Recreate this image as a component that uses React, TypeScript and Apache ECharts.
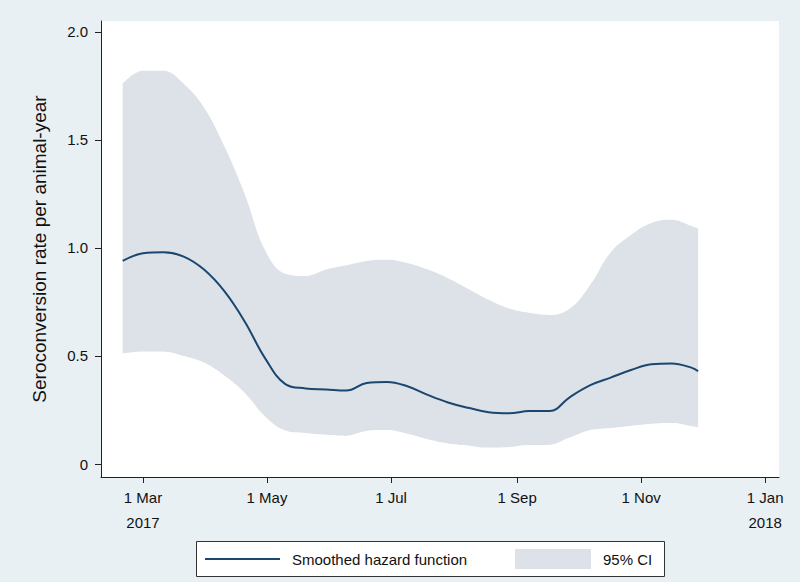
import React, { useEffect, useRef } from "react";
import * as echarts from "echarts";

const dates = [
  "2017-02-19", "2017-03-01", "2017-03-11", "2017-03-21", "2017-03-31", "2017-04-10",
  "2017-04-20", "2017-04-30", "2017-05-10", "2017-05-20", "2017-05-30", "2017-06-09",
  "2017-06-19", "2017-06-29", "2017-07-09", "2017-07-19", "2017-07-29", "2017-08-08",
  "2017-08-18", "2017-08-28", "2017-09-07", "2017-09-17", "2017-09-27", "2017-10-07",
  "2017-10-17", "2017-10-27", "2017-11-06", "2017-11-16", "2017-11-26", "2017-11-29",
];
const hazard = [
  0.94, 0.975, 0.98, 0.96, 0.90, 0.80, 0.66, 0.49, 0.37, 0.35, 0.345, 0.34,
  0.375, 0.38, 0.36, 0.32, 0.285, 0.26, 0.24, 0.235, 0.245, 0.245, 0.31, 0.365,
  0.40, 0.435, 0.462, 0.465, 0.445, 0.43,
];
const ciUpper = [
  1.76, 1.82, 1.82, 1.76, 1.65, 1.47, 1.25, 0.99, 0.88, 0.87, 0.90, 0.92,
  0.94, 0.945, 0.93, 0.90, 0.86, 0.81, 0.76, 0.72, 0.70, 0.69, 0.72, 0.83,
  0.98, 1.06, 1.115, 1.13, 1.10, 1.09,
];
const ciLower = [
  0.51, 0.52, 0.52, 0.50, 0.47, 0.41, 0.33, 0.22, 0.155, 0.143, 0.135, 0.13,
  0.152, 0.157, 0.14, 0.115, 0.095, 0.085, 0.075, 0.078, 0.087, 0.088, 0.12, 0.155,
  0.165, 0.175, 0.185, 0.19, 0.175, 0.17,
];
const xTickDates = ["2017-03-01", "2017-05-01", "2017-07-01", "2017-09-01", "2017-11-01", "2018-01-01"];
const yTicks = [0, 0.5, 1.0, 1.5, 2.0];
const monthNames = ["Jan", "Feb", "Mar", "Apr", "May", "Jun", "Jul", "Aug", "Sep", "Oct", "Nov", "Dec"];
const yTitle = "Seroconversion rate per animal-year";
const legendLine = "Smoothed hazard function";
const legendBand = "95% CI";

const parseDate = (s: string) => {
  const [y, m, d] = s.split("-").map(Number);
  return Date.UTC(y, m - 1, d);
};

const DAY = 86400000;
const FONT = "Liberation Sans, Arial, sans-serif";
const BAND = "#dde2e9";

export default function App() {
  const ref = useRef<HTMLDivElement>(null);
  useEffect(() => {
    if (!ref.current) return;
    const chart = echarts.init(ref.current, null, { renderer: "svg" });
    const ts = dates.map(parseDate);
    const tickTs = xTickDates.map(parseDate);
    const mar1 = tickTs[0];
    const upperData = ts.map((t, i) => [t, ciUpper[i]]);
    const lowerData = ts.map((t, i) => [t, ciLower[i]]);
    const hazData = ts.map((t, i) => [t, hazard[i]]);
    chart.setOption({
      animation: false,
      backgroundColor: "#e9f0f3",
      textStyle: { fontFamily: FONT },
      grid: {
        left: 101, top: 21, right: 21, bottom: 105,
        show: true, backgroundColor: "#ffffff", borderWidth: 0,
      },
      xAxis: {
        type: "value",
        min: mar1 - 20.66 * DAY,
        max: mar1 + 312.8 * DAY,
        z: 10,
        splitLine: { show: false },
        axisLine: { show: true, onZero: false, lineStyle: { color: "#222", width: 1 } },
        axisTick: { show: true, length: 6, lineStyle: { color: "#222" }, customValues: tickTs },
        axisLabel: {
          customValues: tickTs,
          color: "#111",
          fontSize: 15,
          fontFamily: FONT,
          lineHeight: 25,
          margin: 8,
          formatter: (v: number) => {
            const d = new Date(v);
            const m = d.getUTCMonth();
            const y = d.getUTCFullYear();
            let s = "1 " + monthNames[m];
            if ((y === 2017 && m === 2) || (y === 2018 && m === 0)) s += "\n" + y;
            return s;
          },
        },
      },
      yAxis: {
        type: "value",
        min: -0.06,
        max: 2.05,
        z: 10,
        name: yTitle,
        nameLocation: "middle",
        nameRotate: 90,
        nameGap: 52,
        nameTextStyle: { fontSize: 19, color: "#111", fontFamily: FONT },
        splitLine: { show: false },
        axisLine: { show: true, onZero: false, lineStyle: { color: "#222", width: 1 } },
        axisTick: { show: true, length: 6, lineStyle: { color: "#222" }, customValues: yTicks },
        axisLabel: {
          customValues: yTicks,
          color: "#111",
          fontSize: 15,
          fontFamily: FONT,
          margin: 13,
          formatter: (v: number) => (v === 0 ? "0" : v.toFixed(1)),
        },
      },
      series: [
        {
          name: legendBand,
          type: "line",
          data: upperData,
          smooth: 0.4,
          symbol: "none",
          lineStyle: { width: 0, opacity: 0 },
          areaStyle: { color: BAND, opacity: 1, origin: -0.055 },
          silent: true,
          z: 2,
        },
        {
          name: "lower",
          type: "line",
          data: lowerData,
          smooth: 0.4,
          symbol: "none",
          lineStyle: { width: 0, opacity: 0 },
          areaStyle: {
            color: "#ffffff", opacity: 1, origin: -0.055,
            shadowColor: "#ffffff", shadowOffsetX: -1.5, shadowBlur: 0,
          },
          silent: true,
          z: 3,
        },
        {
          name: legendLine,
          type: "line",
          data: hazData,
          smooth: 0.4,
          symbol: "none",
          lineStyle: { width: 2, color: "#1a476f" },
          z: 5,
        },
      ],
      graphic: [
        {
          type: "rect",
          shape: { x: 196.5, y: 541.5, width: 468, height: 35 },
          style: { fill: "#ffffff", stroke: "#333", lineWidth: 1 },
        },
        {
          type: "line",
          shape: { x1: 205, y1: 559, x2: 280, y2: 559 },
          style: { stroke: "#1a476f", lineWidth: 2 },
        },
        {
          type: "text",
          x: 292, y: 559,
          style: { text: legendLine, fontSize: 15, fontFamily: FONT, fill: "#111", verticalAlign: "middle" },
        },
        {
          type: "rect",
          shape: { x: 515, y: 549, width: 76, height: 20 },
          style: { fill: BAND },
        },
        {
          type: "text",
          x: 603, y: 559,
          style: { text: legendBand, fontSize: 15, fontFamily: FONT, fill: "#111", verticalAlign: "middle" },
        },
      ],
    });
    return () => chart.dispose();
  }, []);
  return <div ref={ref} style={{ width: 800, height: 582, position: "absolute", left: 0, top: 0 }} />;
}
